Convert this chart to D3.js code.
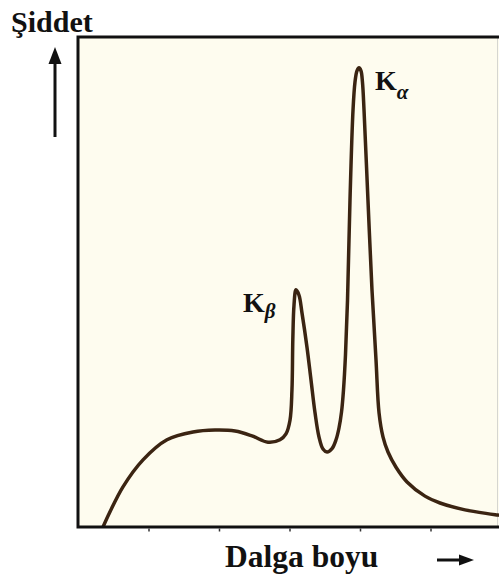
<!DOCTYPE html>
<html>
<head>
<meta charset="utf-8">
<script src="https://cdn.jsdelivr.net/npm/d3@7"></script>
<style>
  body { margin: 0; background: #fff; }
  svg { display: block; }
</style>
</head>
<body>
<div id="chart"></div>
<script>
// wavelength (arbitrary units, one unit per tick) and intensity (% of box height)
const wavelength = [0.355, 0.454, 0.638, 0.922, 1.262, 1.631, 1.943, 2.227, 2.468, 2.695,
  2.865, 2.950, 3.007, 3.035, 3.047, 3.064, 3.092, 3.135, 3.177, 3.248, 3.305, 3.362,
  3.418, 3.475, 3.532, 3.603, 3.660, 3.702, 3.738, 3.766, 3.794, 3.823, 3.858, 3.901,
  3.929, 3.957, 3.986, 4.014, 4.035, 4.057, 4.113, 4.170, 4.227, 4.270, 4.326, 4.397,
  4.511, 4.667, 4.922, 5.135, 5.489, 5.972];
const intensity = [0, 3.1, 8.2, 13.7, 17.8, 19.4, 19.8, 19.6, 18.6, 17.3,
  17.8, 19.0, 21.8, 28.0, 38.2, 45.3, 48.4, 47.3, 43.7, 36.7, 30.0, 23.3,
  18.4, 15.9, 15.3, 16.0, 17.8, 20.2, 23.5, 28.0, 35.1, 46.3, 66.7, 85.1,
  90.8, 93.1, 93.7, 93.1, 90.8, 85.1, 66.7, 48.4, 34.1, 23.3, 18.4, 15.3,
  12.2, 9.2, 6.3, 4.9, 3.5, 2.4];
const peakLabels = [
  { main: 'K', sub: 'α', at: 3.986, value: 93.7 },
  { main: 'K', sub: 'β', at: 3.092, value: 48.4 },
];
const xTicks = [1, 2, 3, 4, 5];
const yTitle = 'Şiddet';
const xTitle = 'Dalga boyu';

const data = wavelength.map((w, i) => ({ w, v: intensity[i] }));

const size = { width: 499, height: 581 };
const margin = { top: 37, right: -2, bottom: 54, left: 78 };

const svg = d3.select('#chart').append('svg')
  .attr('width', size.width)
  .attr('height', size.height);

const x = d3.scaleLinear().domain([0, 6]).range([margin.left, size.width - margin.right]);
const y = d3.scaleLinear().domain([0, 100]).range([size.height - margin.bottom, margin.top]);

// plot area
svg.append('rect')
  .attr('x', margin.left)
  .attr('y', margin.top)
  .attr('width', size.width - margin.left)
  .attr('height', y(0) - margin.top)
  .attr('fill', '#fefcef');

svg.append('line')
  .attr('x1', 497.5).attr('x2', 497.5)
  .attr('y1', margin.top).attr('y2', y(0))
  .attr('stroke', '#d6d6d0')
  .attr('stroke-width', 1);

const line = d3.line()
  .x((d) => x(d.w))
  .y((d) => y(d.v))
  .curve(d3.curveCatmullRom.alpha(0.5));

svg.append('path')
  .attr('d', line(data))
  .attr('fill', 'none')
  .attr('stroke', '#3b2412')
  .attr('stroke-width', 3.5)
  .attr('stroke-linejoin', 'round');

// frame
svg.append('path')
  .attr('d', `M${size.width},${margin.top}H${margin.left}V${y(0)}H${size.width}`)
  .attr('fill', 'none')
  .attr('stroke', '#111')
  .attr('stroke-width', 3);

svg.append('g')
  .attr('transform', `translate(0, ${y(0) + 1.5})`)
  .call(d3.axisBottom(x).tickValues(xTicks).tickSize(3).tickFormat(''))
  .call((g) => g.select('.domain').remove())
  .call((g) => g.selectAll('line').attr('stroke', '#333').attr('stroke-width', 1.5));

// peak labels
const labels = svg.selectAll('.peak').data(peakLabels).join('text')
  .attr('class', 'peak')
  .attr('x', (d) => x(d.at) + (d.sub === 'α' ? 16 : -53))
  .attr('y', (d) => y(d.value) + 22)
  .attr('font-family', 'Liberation Serif, Times New Roman, serif')
  .attr('font-weight', 'bold')
  .attr('font-size', 28)
  .attr('fill', '#111');

labels.append('tspan').text((d) => d.main);
labels.append('tspan')
  .attr('dy', (d) => (d.sub === 'α' ? 9 : 6))
  .attr('font-size', 21)
  .attr('font-style', 'italic')
  .text((d) => d.sub);

// titles
svg.append('text')
  .text(yTitle)
  .attr('x', 11)
  .attr('y', 32)
  .attr('font-family', 'Liberation Serif, Times New Roman, serif')
  .attr('font-weight', 'bold')
  .attr('font-size', 30)
  .attr('fill', '#111');

svg.append('text')
  .text(xTitle)
  .attr('x', 225)
  .attr('y', 567)
  .attr('font-family', 'Liberation Serif, Times New Roman, serif')
  .attr('font-weight', 'bold')
  .attr('font-size', 31.5)
  .attr('fill', '#111');

// arrows
svg.append('line')
  .attr('x1', 55).attr('x2', 55)
  .attr('y1', 137).attr('y2', 60)
  .attr('stroke', '#111')
  .attr('stroke-width', 3);
svg.append('path')
  .attr('d', 'M55,47L61.5,64H48.5Z')
  .attr('fill', '#111');

svg.append('line')
  .attr('x1', 437).attr('x2', 462)
  .attr('y1', 560).attr('y2', 560)
  .attr('stroke', '#111')
  .attr('stroke-width', 3);
svg.append('path')
  .attr('d', 'M474,560L459,554.5V565.5Z')
  .attr('fill', '#111');
</script>
</body>
</html>
